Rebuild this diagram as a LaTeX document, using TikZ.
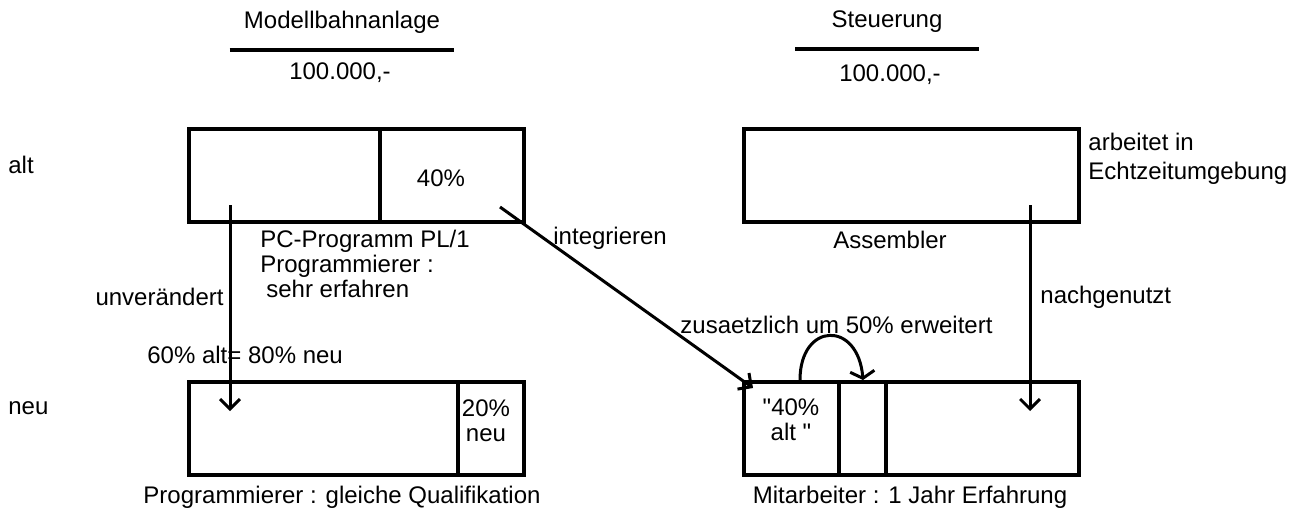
\documentclass[tikz,border=0pt]{standalone}
\usepackage{fontspec}
\setmainfont{Liberation Sans}[Ligatures=TeXOff]
\usetikzlibrary{arrows.meta,positioning,calc}

\begin{document}
\begin{tikzpicture}[
  x=0.5pt, y=-0.5pt,
  every node/.style={font=\fontsize{12}{12.5}\selectfont, inner sep=0pt},
  blockbox/.style={rectangle, draw, line width=2pt, minimum width=167.5pt,
    minimum height=46.5pt, anchor=north west},
  divider/.style={line width=2pt},
  underline/.style={line width=2pt},
  arrow/.style={-{Straight Barb[angle=90:7pt]}, line width=1.5pt},
  looparrow/.style={-{Straight Barb[angle=120:7pt]}, line width=1.5pt},
]
\useasboundingbox (0,0) rectangle (1310,516);

% Headings
\node (mbTitle) at (342,22) {Modellbahnanlage};
\node (mbSum) at (340,73) {100.000,-};
\node (stTitle) at (887,22) {Steuerung};
\node (stSum) at (890,75) {100.000,-};
\draw[underline] ([xshift=-7pt,yshift=-8pt]mbTitle.south west) -- ([xshift=7pt,yshift=-8pt]mbTitle.south east);
\draw[underline] ([xshift=-18pt,yshift=-8pt]stTitle.south west) -- ([xshift=18pt,yshift=-8pt]stTitle.south east);

% Row labels
\node[anchor=west] (alt) at (8,165) {alt};
\node[anchor=west] (neu) at (8,408) {neu};

% Old system
\node[blockbox] (mbAlt) at (187,127) {};
\node[blockbox] (stAlt) at (742,127) {};
\draw[divider] ($(mbAlt.north west)!0.57!(mbAlt.north east)$) -- ($(mbAlt.south west)!0.57!(mbAlt.south east)$);
\node (mbReuse) at (441,178) {40\%};
\node[anchor=north west, align=left] (mbLang) at (260,230)
  {PC-Programm PL/1\\Programmierer :\\\hspace*{3pt}sehr erfahren};
\node (stLang) at (890,240) {Assembler};
\node[anchor=west, align=left, font=\fontsize{12}{14.5}\selectfont] (stEnv) at (1088,159)
  {arbeitet in\\Echtzeitumgebung};

% New system
\node[blockbox] (mbNeu) at (187,380) {};
\node[blockbox] (stNeu) at (742,380) {};
\draw[divider] ($(mbNeu.north west)!0.8!(mbNeu.north east)$) -- ($(mbNeu.south west)!0.8!(mbNeu.south east)$);
\draw[divider] ($(stNeu.north west)!0.286!(stNeu.north east)$) -- ($(stNeu.south west)!0.286!(stNeu.south east)$);
\draw[divider] ($(stNeu.north west)!0.426!(stNeu.north east)$) -- ($(stNeu.south west)!0.426!(stNeu.south east)$);
\node[align=center] (mbAdd) at (486,421) {20\%\\neu};
\node[align=center] (stKeep) at (791,420) {"40\%\\alt "};
\node (mbStaff) at (342,497) {Programmierer : gleiche Qualifikation};
\node (stStaff) at (910,497) {Mitarbeiter : 1 Jahr Erfahrung};

% Arrow ends
\coordinate (uFrom) at (230,205);
\coordinate (uTo) at (230,411);
\coordinate (iFrom) at (500,207);
\coordinate (iTo) at (753,388);
\coordinate (nFrom) at (1030,205);
\coordinate (nTo) at (1030,411);
\coordinate (eFrom) at (800,380);
\coordinate (eTo) at (863,380);

% Arrows
\draw[arrow] (uFrom) -- (uTo);
\draw[arrow] (iFrom) -- (iTo);
\draw[arrow] (nFrom) -- (nTo);
\draw[looparrow] (eFrom) .. controls (800,322) and (858,320) .. (eTo);

% Arrow labels
\node[anchor=east] (uLabel) at (224,297) {unverändert};
\node[anchor=west] (mbSplit) at (147,355) {60\% alt= 80\% neu};
\node[anchor=west] (iLabel) at (553,238) {integrieren};
\node[anchor=west] (eLabel) at (680,325) {zusaetzlich um 50\% erweitert};
\node[anchor=west] (nLabel) at (1040,297) {nachgenutzt};
\end{tikzpicture}
\end{document}
